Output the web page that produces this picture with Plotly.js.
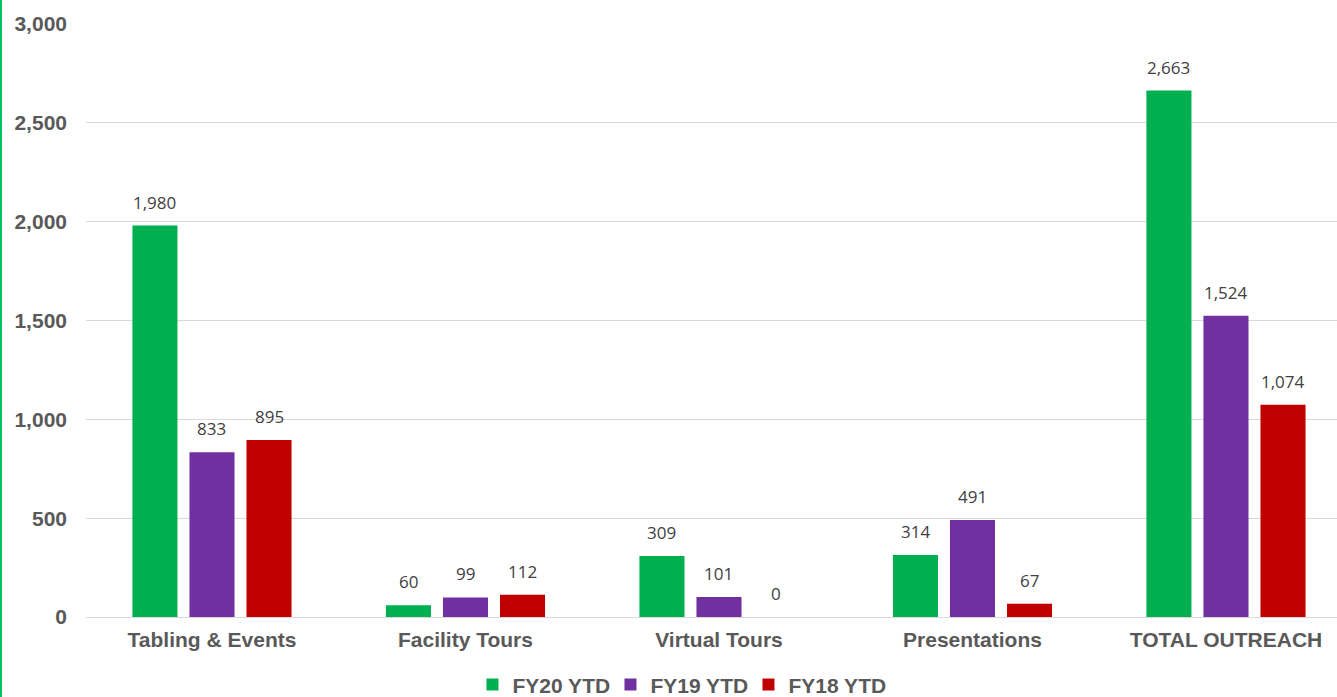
<!DOCTYPE html>
<html>
<head>
<meta charset="utf-8">
<script src="https://cdn.plot.ly/plotly-3.0.1.min.js"></script>
<style>
html,body{margin:0;padding:0;background:#fff;}
#chart{width:1335px;height:697px;border-left:2px solid #00C060;}
</style>
</head>
<body>
<div id="chart"></div>
<script>
var categories = ["Tabling & Events", "Facility Tours", "Virtual Tours", "Presentations", "TOTAL OUTREACH"];
var fy20 = [1980, 60, 309, 314, 2663];
var fy19 = [833, 99, 101, 491, 1524];
var fy18 = [895, 112, 0, 67, 1074];
var seriesNames = ["FY20 YTD", "FY19 YTD", "FY18 YTD"];
var colors = ["#00B050", "#7030A0", "#C00000"];

function fmt(v){ return v.toLocaleString("en-US"); }
var vals = [fy20, fy19, fy18];

var W = 1335, H = 697;
var margin = {l: 84, r: 0, t: 24, b: 80};
var xRange = [-0.497, 4.438];
var bargap = 0.325;
var bargroupgap = 0.21;
var plotW = W - margin.l - margin.r;
var catPx = plotW / (xRange[1] - xRange[0]);
var slotPx = catPx * (1 - bargap) / 3;

var traces = vals.map(function(v, i){
  return {
    type: "bar",
    name: seriesNames[i],
    x: categories,
    y: v,
    marker: {color: colors[i]},
    hoverinfo: "none"
  };
});

var annotations = [];
vals.forEach(function(v, i){
  v.forEach(function(val, j){
    annotations.push({
      x: categories[j], y: val, xref: "x", yref: "y",
      text: fmt(val), showarrow: false,
      xanchor: "center", yanchor: "bottom",
      xshift: (i - 1) * slotPx, yshift: 10,
      font: {family: "Open Sans, Liberation Sans, sans-serif", size: 17, color: "#404040"}
    });
  });
});

var layout = {
  width: W, height: H,
  margin: {l: margin.l, r: margin.r, t: margin.t, b: margin.b, autoexpand: false},
  paper_bgcolor: "#fff", plot_bgcolor: "#fff",
  barmode: "group",
  bargap: bargap,
  bargroupgap: bargroupgap,
  showlegend: true,
  legend: {
    orientation: "h", x: 0.4744, xanchor: "center", y: -0.08, yanchor: "top",
    font: {family: "Liberation Sans, Arial, sans-serif", size: 21, color: "#595959", weight: "bold"},
    itemwidth: 30, tracegroupgap: 0, entrywidth: 93
  },
  annotations: annotations,
  xaxis: {
    range: xRange,
    tickfont: {family: "Liberation Sans, Arial, sans-serif", size: 21, color: "#595959", weight: "bold"},
    showline: false, ticks: "", showgrid: false, zeroline: false, ticklabelstandoff: 8
  },
  yaxis: {
    range: [0, 3000], dtick: 500, tickformat: ",",
    tickfont: {family: "Liberation Sans, Arial, sans-serif", size: 21, color: "#595959", weight: "bold"},
    gridcolor: "#D9D9D9", gridwidth: 1,
    zeroline: true, zerolinecolor: "#D9D9D9", zerolinewidth: 1,
    showline: false, ticks: "", ticklabelstandoff: 18
  }
};

Plotly.newPlot("chart", traces, layout, {displayModeBar: false, staticPlot: true});
</script>
</body>
</html>
